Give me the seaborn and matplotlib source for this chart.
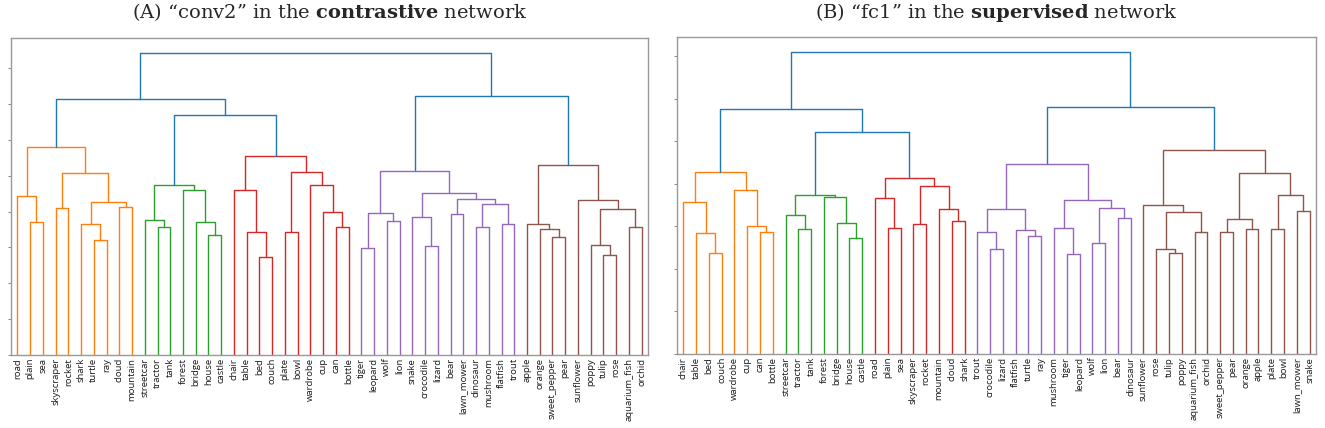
import numpy as np
import pandas as pd
import matplotlib
matplotlib.use("Agg")
import matplotlib.pyplot as plt
import seaborn as sns

sns.set_style("white")
plt.rcParams['mathtext.fontset'] = 'custom'
plt.rcParams['mathtext.rm'] = 'DejaVu Serif'
plt.rcParams['mathtext.bf'] = 'DejaVu Serif:bold'

# merges as (left, right, height): a str is a leaf, an int points to an earlier merge
merges_a = [
    ("plain", "sea", 3.71),            # 0
    ("road", 0, 4.43),                 # 1
    ("skyscraper", "rocket", 4.10),    # 2
    ("turtle", "ray", 3.21),           # 3
    ("shark", 3, 3.65),                # 4
    ("cloud", "mountain", 4.13),       # 5
    (4, 5, 4.28),                      # 6
    (2, 6, 5.08),                      # 7
    (1, 7, 5.81),                      # 8
    ("tractor", "tank", 3.57),         # 9
    ("streetcar", 9, 3.77),            # 10
    ("house", "castle", 3.34),         # 11
    ("bridge", 11, 3.71),              # 12
    ("forest", 12, 4.60),              # 13
    (10, 13, 4.75),                    # 14
    ("bed", "couch", 2.73),            # 15
    ("table", 15, 3.43),               # 16
    ("chair", 16, 4.59),               # 17
    ("plate", "bowl", 3.43),           # 18
    ("can", "bottle", 3.56),           # 19
    ("cup", 19, 3.98),                 # 20
    ("wardrobe", 20, 4.75),            # 21
    (18, 21, 5.09),                    # 22
    (17, 22, 5.55),                    # 23
    (14, 23, 6.70),                    # 24
    (8, 24, 7.15),                     # 25
    ("tiger", "leopard", 2.99),        # 26
    ("wolf", "lion", 3.75),            # 27
    (26, 27, 3.95),                    # 28
    ("crocodile", "lizard", 3.03),     # 29
    ("snake", 29, 3.84),               # 30
    ("bear", "lawn_mower", 3.94),      # 31
    ("dinosaur", "mushroom", 3.58),    # 32
    ("flatfish", "trout", 3.65),       # 33
    (32, 33, 4.20),                    # 34
    (31, 34, 4.36),                    # 35
    (30, 35, 4.51),                    # 36
    (28, 36, 5.13),                    # 37
    ("sweet_pepper", "pear", 3.28),    # 38
    ("orange", 38, 3.52),              # 39
    ("apple", 39, 3.64),               # 40
    ("tulip", "rose", 2.80),           # 41
    ("poppy", 41, 3.08),               # 42
    ("aquarium_fish", "orchid", 3.57), # 43
    (42, 43, 4.07),                    # 44
    ("sunflower", 44, 4.31),           # 45
    (40, 45, 5.31),                    # 46
    (37, 46, 7.21),                    # 47
    (25, 47, 8.42),                    # 48
]

merges_b = [
    ("bed", "couch", 2.37),            # 0
    ("table", 0, 2.85),                # 1
    ("chair", 1, 3.57),                # 2
    ("can", "bottle", 2.86),           # 3
    ("cup", 3, 3.02),                  # 4
    ("wardrobe", 4, 3.86),             # 5
    (2, 5, 4.29),                      # 6
    ("tractor", "tank", 2.93),         # 7
    ("streetcar", 7, 3.26),            # 8
    ("house", "castle", 2.72),         # 9
    ("bridge", 9, 3.08),               # 10
    ("forest", 10, 3.70),              # 11
    (8, 11, 3.75),                     # 12
    ("plain", "sea", 2.96),            # 13
    ("road", 13, 3.67),                # 14
    ("skyscraper", "rocket", 3.05),    # 15
    ("cloud", "shark", 3.12),          # 16
    ("mountain", 16, 3.41),            # 17
    (15, 17, 3.94),                    # 18
    (14, 18, 4.13),                    # 19
    (12, 19, 5.22),                    # 20
    (6, 20, 5.75),                     # 21
    ("crocodile", "lizard", 2.47),     # 22
    ("trout", 22, 2.88),               # 23
    ("turtle", "ray", 2.78),           # 24
    ("flatfish", 24, 2.91),            # 25
    (23, 25, 3.42),                    # 26
    ("tiger", "leopard", 2.35),        # 27
    ("mushroom", 27, 2.97),            # 28
    ("wolf", "lion", 2.60),            # 29
    ("bear", "dinosaur", 3.19),        # 30
    (29, 30, 3.43),                    # 31
    (28, 31, 3.63),                    # 32
    (26, 32, 4.46),                    # 33
    ("tulip", "poppy", 2.37),          # 34
    ("rose", 34, 2.46),                # 35
    ("aquarium_fish", "orchid", 2.88), # 36
    (35, 36, 3.34),                    # 37
    ("sunflower", 37, 3.51),           # 38
    ("sweet_pepper", "pear", 2.86),    # 39
    ("orange", "apple", 2.95),         # 40
    (39, 40, 3.17),                    # 41
    ("plate", "bowl", 2.93),           # 42
    ("lawn_mower", "snake", 3.37),     # 43
    (42, 43, 3.74),                    # 44
    (41, 44, 4.25),                    # 45
    (38, 45, 4.80),                    # 46
    (33, 46, 5.82),                    # 47
    (21, 47, 7.10),                    # 48
]

titles = ['(A) “conv2” in the $\\mathbf{contrastive}$ network',
          '(B) “fc1” in the $\\mathbf{supervised}$ network']
yticks_a = list(range(0, 9))
yticks_b = list(range(0, 8))

palette = {"C0": "#1f77b4", "C1": "#ff7f0e", "C2": "#2ca02c",
           "C3": "#d62728", "C4": "#9467bd", "C5": "#8c564b"}


def leaf_order(merges, node):
    if isinstance(node, str):
        return [node]
    l, r, h = merges[node]
    return leaf_order(merges, l) + leaf_order(merges, r)


def build_links(merges):
    root = len(merges) - 1
    leaves = leaf_order(merges, root)
    pos = {name: 5 + 10 * i for i, name in enumerate(leaves)}
    thresh = 0.7 * merges[root][2]
    rows = []
    ncol = [0]

    def walk(node, col):
        if isinstance(node, str):
            return pos[node], 0.0
        l, r, h = merges[node]
        if h < thresh and col == 0:
            ncol[0] += 1
            col = ncol[0]
        xl, hl = walk(l, col)
        xr, hr = walk(r, col)
        for x, y in [(xl, hl), (xl, h), (xr, h), (xr, hr)]:
            rows.append({"x": x, "y": y, "link": node, "cluster": f"C{col}"})
        return (xl + xr) / 2, h

    walk(root, 0)
    return leaves, pd.DataFrame(rows)


fig = plt.figure(figsize=(13.25, 4.28), dpi=100)
boxes = [[0.0083, 0.1706, 0.4808, 0.7407], [0.5109, 0.1729, 0.4823, 0.7407]]

for merges, box, title, yt in zip([merges_a, merges_b], boxes, titles, [yticks_a, yticks_b]):
    ax = fig.add_axes(box)
    leaves, df = build_links(merges)
    sns.lineplot(data=df, x="x", y="y", units="link", estimator=None, sort=False,
                 hue="cluster", palette=palette, legend=False, linewidth=1.0, ax=ax)
    ax.set_xlim(0, 10 * len(leaves))
    ax.set_ylim(0, 1.05 * merges[-1][2])
    ax.set_xticks([5 + 10 * i for i in range(len(leaves))])
    ax.set_xticklabels(leaves, rotation=90, fontsize=6.8, family="Open Sans", color="#1a1a1a")
    ax.set_yticks(yt)
    ax.set_yticklabels([])
    ax.tick_params(axis="x", length=0, pad=2)
    ax.tick_params(axis="y", left=True, length=2.5, width=0.6, color="#777777")
    ax.set_xlabel("")
    ax.set_ylabel("")
    for s in ax.spines.values():
        s.set_color("#999999")
        s.set_linewidth(1.0)
    cx = box[0] + box[2] / 2
    fig.text(cx, 1 - 18 / 428, title, ha="center", va="baseline", fontsize=14,
             family="DejaVu Serif")

fig.savefig("out.png", dpi=100)
